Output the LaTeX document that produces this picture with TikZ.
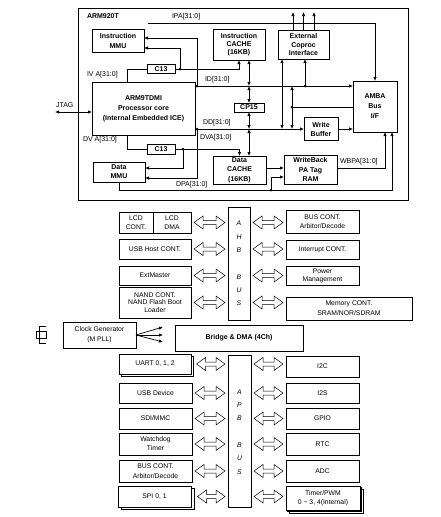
\documentclass[tikz,border=0pt]{standalone}
\usepackage{fontspec}
\setmainfont{Liberation Sans}
\usetikzlibrary{arrows.meta,calc}
\newcommand\blk[3]{%
  \draw[barrow] let \p1=(#1), \p2=(#2), \p3=(#3) in
  (\x1+3pt,\y3) -- (\x1+12pt,\y3+6.5pt) -- (\x1+12pt,\y3+2pt) -- (\x2-12pt,\y3+2pt) --
  (\x2-12pt,\y3+6.5pt) -- (\x2-3pt,\y3) -- (\x2-12pt,\y3-6.5pt) -- (\x2-12pt,\y3-2pt) --
  (\x1+12pt,\y3-2pt) -- (\x1+12pt,\y3-6.5pt) -- cycle;}
\begin{document}
\begin{tikzpicture}[x=1pt,y=-1pt,
  every node/.style={inner sep=0pt, outer sep=0pt},
  tb/.style 2 args={draw, line width=0.8pt, fill=white, minimum width=#1pt, minimum height=#2pt, align=center, font=\fontsize{7}{10}\selectfont\bfseries},
  lb/.style 2 args={draw, line width=0.8pt, fill=white, minimum width=#1pt, minimum height=#2pt, align=center, font=\fontsize{6.8}{9}\selectfont},
  lbl/.style={anchor=west, font=\fontsize{7}{8}\selectfont},
  bus/.style={font=\fontsize{6.8}{8}\selectfont\itshape},
  ln/.style={line width=0.7pt},
  arr/.style={line width=0.7pt, -{Latex[length=4pt,width=3.4pt]}},
  darr/.style={line width=0.7pt, {Latex[length=4pt,width=3.4pt]}-{Latex[length=4pt,width=3.4pt]}},
  barrow/.style={draw, line width=0.5pt, fill=white}]
\useasboundingbox (0,0) rectangle (441,517);
\fill[white] (0,0) rectangle (441,517);

% ---------- ARM920T ----------
\node[draw, line width=0.8pt, minimum width=330pt, minimum height=192pt] (ARM) at (243,104) {};
\node[lbl, font=\fontsize{7}{8}\selectfont\bfseries] (armlbl) at (87,16) {ARM920T};

\node[tb={52}{23}] (IMMU) at (118,40.5) {Instruction\\MMU};
\node[tb={52}{31}, font=\fontsize{7}{8}\selectfont\bfseries] (ICACHE) at (239,44.5) {Instruction\\CACHE\\(16KB)};
\node[tb={51}{29}, font=\fontsize{7}{8.8}\selectfont\bfseries] (COP) at (303.5,44.5) {External\\Coproc\\Interface};
\node[tb={103}{53}] (ARM9) at (143.5,108.5) {ARM9TDMI\\Processor core\\(Internal Embedded ICE)};
\node[tb={28}{9}] (C13a) at (161,69) {C13};
\node[tb={28}{10}] (C13b) at (161,149) {C13};
\node[tb={30}{9}] (CP15) at (249,107.5) {CP15};
\node[tb={34}{23}, font=\fontsize{7}{9}\selectfont\bfseries] (WB) at (321,129) {Write\\Buffer};
\node[tb={44}{51}] (AMBA) at (375,106.5) {AMBA\\Bus\\I/F};
\node[tb={52}{20}, font=\fontsize{7}{9}\selectfont\bfseries] (DMMU) at (119,172) {Data\\MMU};
\node[tb={53}{28}, font=\fontsize{7}{9.5}\selectfont\bfseries] (DCACHE) at (239.5,170) {Data\\CACHE\\(16KB)};
\node[tb={53}{29}, font=\fontsize{7}{9.5}\selectfont\bfseries] (WBRAM) at (310.5,169.5) {WriteBack\\PA Tag\\RAM};

\coordinate (ipaS) at (148,23);
\coordinate (ivaC) at (127,69);
\coordinate (dA) at (180,69);
\coordinate (idL) at (197,86);
\coordinate (idC) at (305,86);
\coordinate (ddL) at (197,129);
\coordinate (amJ) at (292,107);
\coordinate (cpx) at (282,129);
\coordinate (dvaC) at (127,149);
\coordinate (dB) at (183,149);
\coordinate (dpaR) at (392,190);
\coordinate (dC) at (271,190);
\coordinate (wbpaR) at (385,168);
\coordinate (jtag) at (55,112);
\coordinate (dcw) at ([yshift=2pt]DCACHE.east);

\draw[arr] (ipaS) -| (AMBA.north);
\draw[ln] (ARM9.north -| ivaC) -- (ivaC) -- (C13a.west);
\draw[arr] (C13a.east) -| (ICACHE.south);
\draw[arr] (dA) |- ([yshift=-7.5pt]IMMU.east);
\draw[arr] (ARM9.east |- idL) -- (AMBA.west |- idL);
\draw[arr] (idL) |- ([yshift=2.5pt]IMMU.east);
\draw[darr] (ICACHE.south -| CP15) -- (CP15 |- idL);
\draw[darr] (CP15 |- idL) -- (CP15.north);
\draw[darr] (CP15.south) -- (CP15 |- ddL);
\draw[darr] (CP15 |- ddL) -- (DCACHE.north -| CP15);
\draw[arr] (ARM9.east |- ddL) -- (WB.west);
\draw[arr] (WB.east) -- (AMBA.west |- WB.east);
\draw[ln] (AMBA.west |- amJ) -- (amJ);
\draw[arr] (amJ) -- (amJ |- idL);
\draw[arr] (amJ) -- (amJ |- ddL);
\draw[darr] (COP.south -| cpx) -- (cpx);
\draw[arr] (idC) -- (COP.south -| idC);
\foreach \dx in {-10.5,0,10.5} \draw[arr] ([xshift=\dx pt]COP.north) -- ++(0,-18);
\draw[ln] (ARM9.south -| dvaC) -- (dvaC) -- (C13b.west);
\draw[arr] (C13b.east) -| (DCACHE.north);
\draw[arr] (dB) |- ([yshift=4pt]DMMU.east);
\draw[arr] (ddL) |- ([yshift=-6pt]DMMU.east);
\draw[arr] (DMMU.south) |- (dpaR) -- (AMBA.south -| dpaR);
\draw[arr] (dC) |- ([yshift=-7.5pt]WBRAM.west);
\draw[arr] (dcw) -- (WBRAM.west |- dcw);
\draw[arr] (WBRAM.east |- wbpaR) -- (wbpaR) -- (AMBA.south -| wbpaR);
\draw[darr] (jtag) -- (ARM9.west |- jtag);
\foreach \c in {dA,idL,idC,ddL,amJ,dB,dC} \fill (\c) circle[radius=1.5pt];

\node[lbl] (tIPA) at (172,17) {IPA[31:0]};
\node[lbl] (tIVA) at (87,75) {IV A[31:0]};
\node[lbl] (tID) at (205,80) {ID[31:0]};
\node[lbl] (tDD) at (203,123) {DD[31:0]};
\node[lbl] (tDVA1) at (83,140) {DV A[31:0]};
\node[lbl] (tDVA2) at (200,138) {DVA[31:0]};
\node[lbl] (tDPA) at (176,185) {DPA[31:0]};
\node[lbl] (tWBPA) at (340,162) {WBPA[31:0]};
\node[lbl] (tJTAG) at (56,105) {JTAG};

% ---------- AHB ----------
\node[lb={34}{21}, font=\fontsize{6.8}{9.5}\selectfont] (LCDc) at (136,222.5) {LCD\\CONT.};
\node[lb={38}{21}, font=\fontsize{6.8}{9.5}\selectfont] (LCDd) at (172,222.5) {LCD\\DMA};
\node[lb={72}{20}] (USBH) at (155,249) {USB Host CONT.};
\node[lb={72}{19}] (EXTM) at (155,275.5) {ExtMaster};
\node[lb={72}{31}, font=\fontsize{6.8}{7.6}\selectfont] (NAND) at (155,302.5) {NAND CONT.\\NAND Flash Boot\\Loader};
\node[lb={22}{113}] (AHB) at (239,263.5) {};
\foreach \l/\k in {A/0,H/1,B/2,B/4,U/5,S/6} \node[bus] (ahb\k) at (239,223.5+13.3*\k) {\l};
\node[lb={73}{23}, font=\fontsize{6.8}{9.5}\selectfont] (BUSC) at (322.5,221.5) {BUS CONT.\\Arbitor/Decode};
\node[lb={73}{19}] (INT) at (322.5,249.5) {Interrupt CONT.};
\node[lb={73}{19}, font=\fontsize{6.8}{7.5}\selectfont] (PWR) at (322.5,276) {Power\\Management};
\node[lb={126}{23}, font=\fontsize{6.8}{10}\selectfont] (MEM) at (349,308.5) {Memory CONT.\\SRAM/NOR/SDRAM};
\blk{LCDd.east}{AHB.west}{LCDd.east}
\blk{USBH.east}{AHB.west}{USBH.east}
\blk{EXTM.east}{AHB.west}{EXTM.east}
\blk{NAND.east}{AHB.west}{NAND.east}
\blk{AHB.east}{BUSC.west}{LCDd.east}
\blk{AHB.east}{INT.west}{USBH.east}
\blk{AHB.east}{PWR.west}{EXTM.east}
\blk{AHB.east}{MEM.west}{NAND.east}

% ---------- Clock / Bridge ----------
\node[lb={73}{26}, font=\fontsize{6.8}{10}\selectfont] (CLK) at (99.5,335) {Clock Generator\\(M PLL)};
\draw[line width=0.6pt] (46,326) -- (39.5,326) -- (39.5,343.5) -- (46,343.5);
\draw[line width=0.6pt] (36.5,331.5) rectangle (46,338);
\foreach \dy in {-8,0,7} \draw[arr] (CLK.east) -- ++(27,\dy);
\node[tb={128}{26}] (BR) at (239,338) {Bridge \& DMA (4Ch)};

% ---------- APB ----------
\node[lb={72}{20}] (UARTs) at (157.5,366.5) {};
\node[lb={72}{20}] (UART) at (155,364) {UART 0, 1, 2};
\node[lb={73}{20}] (USBD) at (155.5,393) {USB Device};
\node[lb={73}{21}] (SDI) at (155.5,418.5) {SDI/MMC};
\node[lb={73}{22}] (WD) at (155.5,444) {Watchdog\\Timer};
\node[lb={73}{22}, font=\fontsize{6.8}{10}\selectfont] (BUSC2) at (155.5,471) {BUS CONT.\\Arbitor/Decode};
\node[lb={73}{21}] (SPIs) at (158,498.5) {};
\node[lb={73}{21}] (SPI) at (154.5,496.5) {SPI 0, 1};
\node[lb={23}{152}] (APB) at (239.5,431) {};
\foreach \l/\k in {A/0,P/1,B/2,B/4,U/5,S/6} \node[bus] (apb\k) at (239.5,392+13.3*\k) {\l};
\node[lb={73}{21}] (I2C) at (322.5,366.5) {I2C};
\node[lb={73}{20}] (I2S) at (322.5,393) {I2S};
\node[lb={73}{21}] (GPIO) at (322.5,418.5) {GPIO};
\node[lb={73}{22}] (RTC) at (322.5,444) {RTC};
\node[lb={73}{22}] (ADC) at (322.5,471) {ADC};
\node[lb={74}{24}, line width=1pt] (TIMs2) at (326,501) {};
\node[lb={74}{24}, line width=1pt] (TIMs1) at (324.5,499.5) {};
\node[lb={74}{24}, font=\fontsize{6.8}{9.5}\selectfont] (TIM) at (323,498) {Timer/PWM\\0 \textasciitilde{} 3, 4(Internal)};
\blk{UARTs.east}{APB.west}{UART.east}
\blk{USBD.east}{APB.west}{USBD.east}
\blk{SDI.east}{APB.west}{SDI.east}
\blk{WD.east}{APB.west}{WD.east}
\blk{BUSC2.east}{APB.west}{BUSC2.east}
\blk{SPIs.east}{APB.west}{SPI.east}
\blk{APB.east}{I2C.west}{UART.east}
\blk{APB.east}{I2S.west}{USBD.east}
\blk{APB.east}{GPIO.west}{SDI.east}
\blk{APB.east}{RTC.west}{WD.east}
\blk{APB.east}{ADC.west}{BUSC2.east}
\blk{APB.east}{TIM.west}{SPI.east}
\end{tikzpicture}
\end{document}
